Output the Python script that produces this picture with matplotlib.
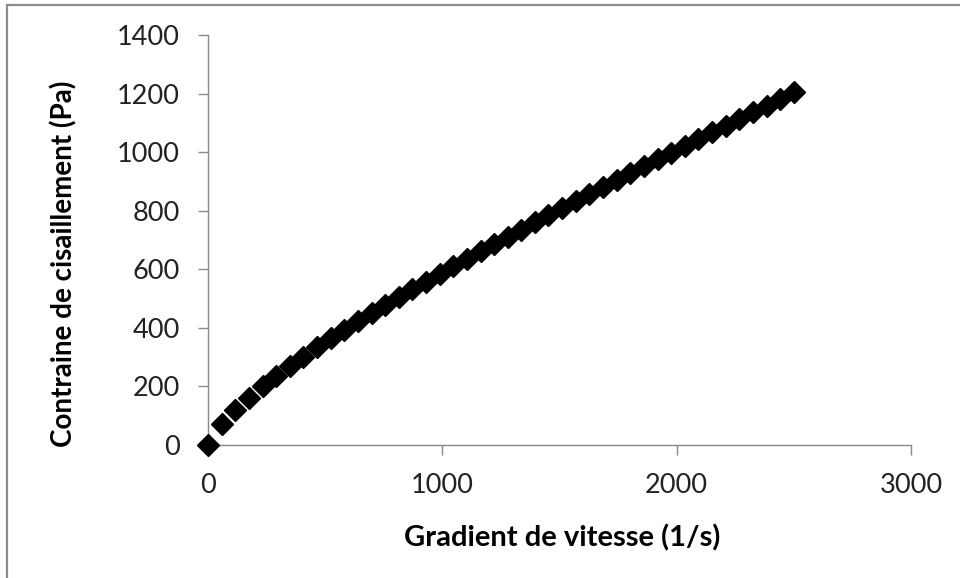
import matplotlib
matplotlib.use('Agg')
import matplotlib.pyplot as plt
from matplotlib.patches import Rectangle

# gradient de vitesse (1/s) et contrainte (Pa)
gradient = [0, 58, 116, 174, 233, 291, 349, 407, 465, 523, 581, 640, 698, 756,
            814, 872, 930, 988, 1047, 1105, 1163, 1221, 1279, 1337, 1395, 1453,
            1512, 1570, 1628, 1686, 1744, 1802, 1860, 1919, 1977, 2035, 2093,
            2151, 2209, 2267, 2326, 2384, 2442, 2500]
contrainte = [0, 72, 120, 162, 200, 236, 270, 302, 333, 364, 393, 422, 450, 477,
              504, 531, 558, 584, 610, 636, 661, 686, 711, 735, 760, 784,
              809, 833, 857, 880, 904, 928, 951, 975, 998, 1021, 1045,
              1068, 1090, 1113, 1137, 1159, 1182, 1205]
x_ticks = [0, 1000, 2000, 3000]
y_ticks = [0, 200, 400, 600, 800, 1000, 1200, 1400]

plt.rcParams['font.family'] = ['Lato', 'DejaVu Sans']
gris = '#898989'

W, H = 960, 578
fig = plt.figure(figsize=(W / 100, H / 100), dpi=100)
ax = fig.add_axes([208 / W, 1 - 445 / H, (911 - 208) / W, (445 - 35) / H])

ax.plot(gradient, contrainte, linestyle='none', marker='D', ms=11.5,
        color='black', clip_on=False, zorder=3)

ax.set_xlim(0, 3000)
ax.set_ylim(0, 1400)
ax.set_xticks(x_ticks)
ax.set_yticks(y_ticks)
ax.set_xticklabels([str(v) for v in x_ticks])
ax.set_yticklabels([str(v) for v in y_ticks])

for s in ['top', 'right']:
    ax.spines[s].set_visible(False)
for s in ['left', 'bottom']:
    ax.spines[s].set_color(gris)
    ax.spines[s].set_linewidth(1.0)
ax.tick_params(axis='both', direction='out', length=7.2, width=1.0, color=gris,
               labelsize=19.5, labelcolor='#222222', pad=13)

fig.text(562 / W, 1 - 538 / H, 'Gradient de vitesse (1/s)', ha='center', va='center',
         fontsize=21, fontweight='bold', color='black')
fig.text(64 / W, 1 - 264 / H, 'Contraine de cisaillement (Pa)', ha='center', va='center',
         rotation=90, fontsize=20, fontweight='bold', color='black')

# cadre du graphique
fig.patches.append(Rectangle((7 / W, -0.1), 1.2, 1 - 5 / H + 0.1, transform=fig.transFigure,
                             fill=False, edgecolor='#8c8c8c', linewidth=1.6))

fig.savefig('out.png', dpi=100)
